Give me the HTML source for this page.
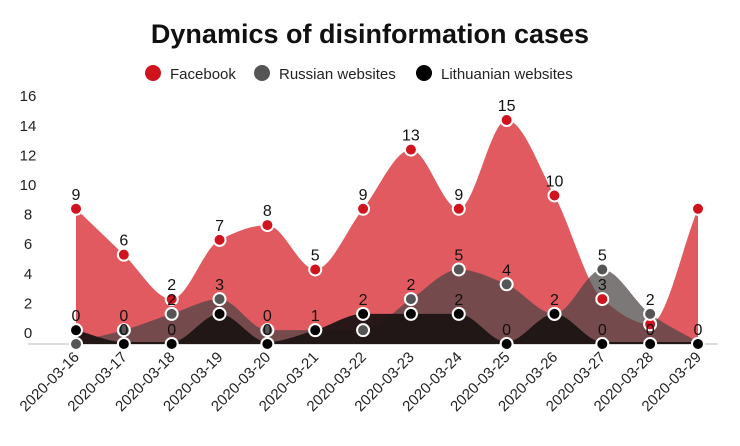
<!DOCTYPE html>
<html><head><meta charset="utf-8"><style>
body{margin:0;background:#fff;font-family:"Liberation Sans",sans-serif}
svg text{font-family:"Liberation Sans",sans-serif}
</style></head><body>
<svg id="c" width="740" height="441">
<text x="370" y="43" text-anchor="middle" font-size="27" font-weight="bold" fill="#111">Dynamics of disinformation cases</text>
<g>
<g><circle cx="153" cy="73" r="8" fill="#d0141e"/><text x="170" y="79" font-size="15" fill="#222">Facebook</text></g>
<g><circle cx="262" cy="73" r="8" fill="#555"/><text x="279" y="79" font-size="15" fill="#222">Russian websites</text></g>
<g><circle cx="424" cy="73" r="8" fill="#000"/><text x="441" y="79" font-size="15" fill="#222">Lithuanian websites</text></g>
</g>
<line x1="28" y1="344" x2="718" y2="344" stroke="#ddd" stroke-width="2"/>
<g id="plot"></g>
</svg>
<script>
const categories=["2020-03-16","2020-03-17","2020-03-18","2020-03-19","2020-03-20","2020-03-21","2020-03-22","2020-03-23","2020-03-24","2020-03-25","2020-03-26","2020-03-27","2020-03-28","2020-03-29"];
const facebook=[9,5.9,2.9,6.9,7.9,4.9,9,13,9,15,9.9,2.9,1.2,9];
const russian=[0,0.8,1.9,2.9,0.8,0.8,0.8,2.9,4.9,3.9,1.9,4.9,1.9,0];
const lithuanian=[0.8,0,0,1.9,0,0.8,1.9,1.9,1.9,0,1.9,0,0,0];
const facebookLabels=["9","6","2","7","8","5","9","13","9","15","10","3","",""];
const russianLabels=["0","0","2","3","0","","","2","5","4","","5","2",""];
const lithuanianLabels=["0","0","0","","0","1","2","","2","0","2","0","0","0"];
const yTicks=[0,2,4,6,8,10,12,14,16];
const NS="http://www.w3.org/2000/svg";
const plot=document.getElementById('plot');
function x(i){return 76+i*(698-76)/(categories.length-1);}
function y(v){return 342-v*14.8;}
function el(t,a){const e=document.createElementNS(NS,t);for(const k in a)e.setAttribute(k,a[k]);return e;}
function monotone(xs,ys){
 const n=xs.length,d=[],m=[];
 for(let i=0;i<n-1;i++)d.push((ys[i+1]-ys[i])/(xs[i+1]-xs[i]));
 m[0]=d[0];m[n-1]=d[n-2];
 for(let i=1;i<n-1;i++){m[i]=(d[i-1]*d[i]<=0)?0:(2/(1/d[i-1]+1/d[i]))/1;}
 let p="M"+xs[0]+","+ys[0];
 for(let i=0;i<n-1;i++){const h=(xs[i+1]-xs[i])/3;
  p+=" C"+(xs[i]+h)+","+(ys[i]+m[i]*h)+" "+(xs[i+1]-h)+","+(ys[i+1]-m[i+1]*h)+" "+xs[i+1]+","+ys[i+1];}
 return p;
}
yTicks.forEach(t=>{
 const tx=el('text',{x:28,y:y(t)-4,'font-size':15,fill:'#222','text-anchor':'middle'});
 
 
 tx.textContent=t;plot.appendChild(tx);
});
categories.forEach((c,i)=>{
 const tx=el('text',{x:x(i)+4,y:358,'font-size':15,fill:'#222','text-anchor':'end',transform:`rotate(-45 ${x(i)+4} 358)`});
 
 
 tx.textContent=c;plot.appendChild(tx);
});
const series=[
 {name:'facebook',vals:facebook,labels:facebookLabels,fill:'#e05a60',op:1,pt:'#d0141e'},
 {name:'russian',vals:russian,labels:russianLabels,fill:'#4a4444',op:0.72,pt:'#555'},
 {name:'lithuanian',vals:lithuanian,labels:lithuanianLabels,fill:'#1e1414',op:0.95,pt:'#000'}
];
const xs=categories.map((c,i)=>x(i));
series.forEach(s=>{
 const ys=s.vals.map(y);
 const d=monotone(xs,ys)+` L${xs[xs.length-1]},344 L${xs[0]},344 Z`;
 const a=el('path',{d:d,fill:s.fill,'fill-opacity':s.op});
 
 
 plot.appendChild(a);
});
series.forEach(s=>{
 s.vals.forEach((v,i)=>{
  const cy=v===0?344:y(v);
  const c=el('circle',{cx:x(i),cy:cy,r:6,fill:s.pt,stroke:'#fff','stroke-width':2});
  
  
  plot.appendChild(c);
  if(s.labels[i]!==""){
   const t=el('text',{x:x(i),y:cy-9,'font-size':16,fill:'#111','text-anchor':'middle'});
   
   
   t.textContent=s.labels[i];plot.appendChild(t);
  }
 });
});
</script>
</body></html>
